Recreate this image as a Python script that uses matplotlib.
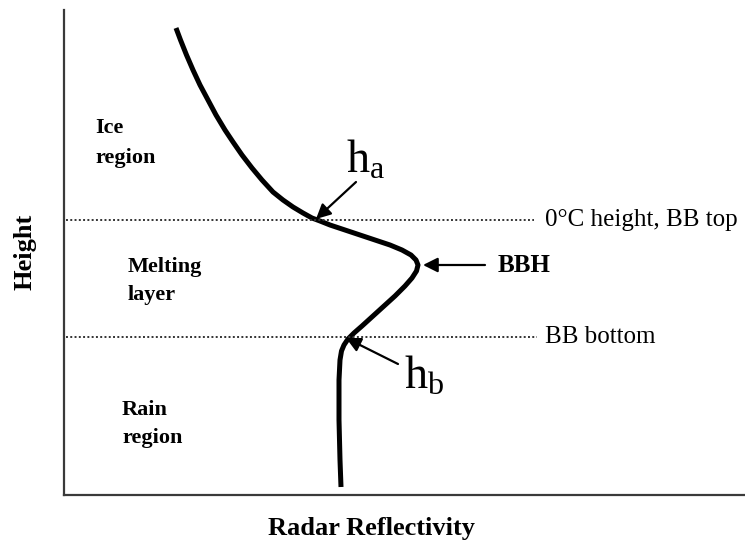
import matplotlib
matplotlib.use("Agg")
import matplotlib.pyplot as plt

# Schematic vertical profile of radar reflectivity (arbitrary units)
reflectivity = [112, 116.5, 122.5, 129, 136, 144, 152, 161, 169, 178, 188, 198,
                209, 219, 229, 239, 248, 256, 266, 281, 296, 311, 326, 338,
                347, 352, 354, 352.5, 348, 341, 331, 320, 309, 298, 290,
                284, 280, 277.5, 276, 275, 275, 276, 277]
height = [467, 455, 440, 425, 410, 395, 380, 365, 353, 340, 327, 315, 303,
          295, 288, 282, 277, 274, 270, 265, 260, 255, 250, 245, 240, 235,
          230, 224, 217, 209, 199, 189, 179, 169, 162, 156, 150, 144,
          135, 115, 75, 35, 8]

bb_top = 275       # 0°C height, BB top
bb_bottom = 158    # BB bottom
bbh = (354, 230)   # bright band peak
line_labels = ["0°C height, BB top", "BB bottom"]
region_labels = [("Ice", "region"), ("Melting", "layer"), ("Rain", "region")]

serif = ["Liberation Serif", "DejaVu Serif"]
plt.rcParams["font.family"] = serif
plt.rcParams["mathtext.fontset"] = "custom"
plt.rcParams["mathtext.rm"] = "Liberation Serif"
plt.rcParams["mathtext.it"] = "Liberation Serif"

fig = plt.figure(figsize=(7.45, 5.44), dpi=100)
ax = fig.add_axes([64 / 745, 49 / 544, 681 / 745, 485 / 544])
ax.set_xlim(0, 681)
ax.set_ylim(0, 485)
for s in ("top", "right"):
    ax.spines[s].set_visible(False)
for s in ("left", "bottom"):
    ax.spines[s].set_color("#3a3a3a")
    ax.spines[s].set_linewidth(1.6)
ax.set_xticks([])
ax.set_yticks([])

# profile curve
ax.plot(reflectivity, height, color="black", lw=3.6, solid_joinstyle="round",
        solid_capstyle="butt")

# dotted reference lines
ax.plot([2, 470], [bb_top, bb_top], color="#333333", lw=1.4, ls=(0, (1, 1.2)))
ax.plot([2, 473], [bb_bottom, bb_bottom], color="#333333", lw=1.4, ls=(0, (1, 1.2)))
ax.text(481, bb_top, line_labels[0], fontsize=18, ha="left", va="center")
ax.text(481, bb_bottom, line_labels[1], fontsize=18, ha="left", va="center")

# BBH arrow + label
arrow = dict(arrowstyle="-|>", color="black", lw=1.6, mutation_scale=22,
             shrinkA=0, shrinkB=0)
ax.annotate("", xy=(bbh[0] + 5, bbh[1]), xytext=(421, bbh[1]), arrowprops=arrow)
ax.text(434, bbh[1], "BBH", fontsize=18, fontweight="bold", ha="left", va="center")

# h_a and h_b
ax.annotate("", xy=(252, 276), xytext=(292, 313), arrowprops=arrow)
ax.text(282, 322, r"$\mathregular{h_a}$", fontsize=33, ha="left", va="baseline")
ax.annotate("", xy=(282, 157), xytext=(334, 131), arrowprops=arrow)
ax.text(340, 106, r"$\mathregular{h_b}$", fontsize=33, ha="left", va="baseline")

# region labels
positions = [(31, 362, 332), (64, 223, 195), (58, 80, 52)]
for (w1, w2), (x, y1, y2) in zip(region_labels, positions):
    ax.text(x, y1, w1, fontsize=16, fontweight="bold", ha="left", va="baseline")
    ax.text(x, y2, w2, fontsize=16, fontweight="bold", ha="left", va="baseline")

fig.text(25 / 745, 1 - 252 / 544, "Height", rotation=90, fontsize=19,
         fontweight="bold", ha="center", va="center")
fig.text(371 / 745, 1 - 528 / 544, "Radar Reflectivity", fontsize=19,
         fontweight="bold", ha="center", va="center")

fig.savefig("out.png", dpi=100)
